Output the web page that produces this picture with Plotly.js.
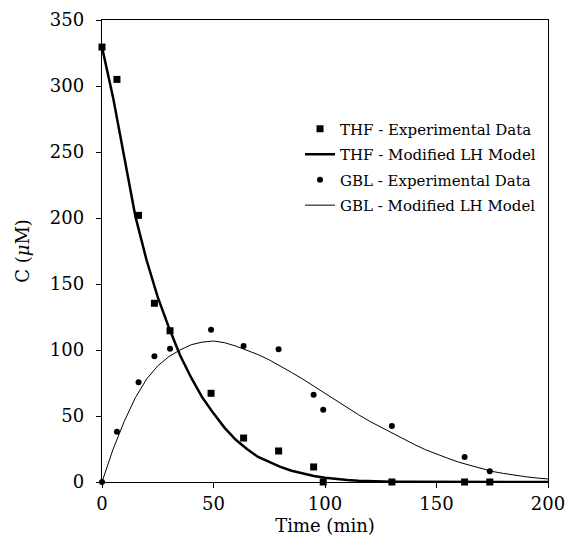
<!DOCTYPE html>
<html>
<head>
<meta charset="utf-8">
<script src="https://cdn.plot.ly/plotly-3.0.1.min.js"></script>
<style>html,body{margin:0;padding:0;background:#fff;}#chart{width:571px;height:541px;}</style>
</head>
<body>
<div id="chart"></div>
<script>
// Experimental data
var expTime = [0, 6.7, 16.4, 23.5, 30.5, 48.9, 63.5, 79.2, 94.9, 99.2, 130, 162.6, 173.9];
var thfExp  = [329.5, 305, 202, 135.4, 114.6, 67.2, 33.3, 23.5, 11.4, 0, 0, 0, 0];
var gblExp  = [0, 38.1, 75.5, 95.2, 101, 115.4, 103, 100.5, 66.1, 54.8, 42.4, 19, 8.1];

// Model curves
var modelTime = [0,5,10,15,20,25,30,35,40,45,50,55,60,65,70,75,80,85,90,95,100,105,110,115,120,125,130,135,140,145,150,155,160,165,170,175,180,185,190,195,200];
var thfModel = [329.5,291,246,201,168,140,117,96,79,64,52,41,32,25,19,15,11.5,8.5,6.3,4.5,3.2,2.2,1.5,1,0.6,0.4,0.2,0.1,0.05,0,0,0,0,0,0,0,0,0,0,0,0];
var gblModel = [0,25,46,64,78,88,95,100,104,106,106.8,105.5,103,100,96.5,92.5,88,83,78,72.5,67,61.5,56.5,51,46,41.5,37,32.5,28.5,24.5,21,18,15,12.5,10,8,6.5,5,4,3,2.3];

var names = ["THF - Experimental Data", "THF - Modified LH Model", "GBL - Experimental Data", "GBL - Modified LH Model"];

var traces = [
  {x: expTime, y: thfExp, name: names[0], type: 'scatter', mode: 'markers', legendgroup: 'a',
   marker: {symbol: 'square', size: 7, color: '#000'}, cliponaxis: false},
  {x: modelTime, y: thfModel, name: names[1], type: 'scatter', mode: 'lines', legendgroup: 'b',
   line: {color: '#000', width: 2.5}},
  {x: expTime, y: gblExp, name: names[2], type: 'scatter', mode: 'markers', legendgroup: 'c',
   marker: {symbol: 'circle', size: 6, color: '#000'}, cliponaxis: false},
  {x: modelTime, y: gblModel, name: names[3], type: 'scatter', mode: 'lines', legendgroup: 'd',
   line: {color: '#000', width: 1}}
];

var fontFam = 'DejaVu Serif, serif';
var layout = {
  width: 571, height: 541,
  margin: {l: 102, r: 23, t: 20, b: 59},
  paper_bgcolor: '#fff', plot_bgcolor: '#fff',
  font: {family: fontFam, size: 18, color: '#000'},
  showlegend: true,
  legend: {x: 0.444, y: 0.80, xanchor: 'left', yanchor: 'top', bgcolor: 'rgba(0,0,0,0)',
           font: {family: fontFam, size: 15, color: '#000'}, tracegroupgap: 3, traceorder: 'grouped'},
  xaxis: {range: [0, 200], tickvals: [0, 50, 100, 150, 200], ticks: 'outside', ticklen: 5, tickcolor: '#000',
          showline: true, linecolor: '#000', linewidth: 1.3, mirror: true, showgrid: false, zeroline: false,
          tickfont: {family: fontFam, size: 18}, title: {text: 'Time (min)', font: {family: fontFam, size: 18}, standoff: 6}},
  yaxis: {range: [0, 350], tickvals: [0, 50, 100, 150, 200, 250, 300, 350], ticks: 'outside', ticklen: 5, tickcolor: '#000',
          ticklabelstandoff: 8,
          showline: true, linecolor: '#000', linewidth: 1.3, mirror: true, showgrid: false, zeroline: false,
          tickfont: {family: fontFam, size: 18}, title: {text: 'C (<i>μ</i>M)', font: {family: fontFam, size: 18}, standoff: 15}}
};

Plotly.newPlot('chart', traces, layout, {displayModeBar: false, staticPlot: true});
</script>
</body>
</html>
